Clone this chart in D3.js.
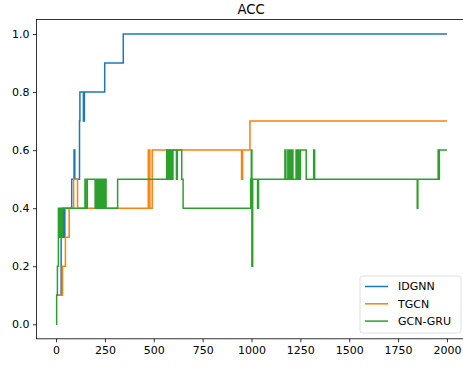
<!DOCTYPE html>
<html>
<head>
<meta charset="utf-8">
<script src="https://cdn.jsdelivr.net/npm/d3@7"></script>
<style>
  body { margin: 0; background: #fff; }
  svg text { font-family: "DejaVu Sans", sans-serif; fill: #000; }
</style>
</head>
<body>
<svg id="accChart" width="463" height="369"></svg>
<script>
// change points of each series: [epoch, accuracy], held until the next point
var idgnnSteps = [[0, 0.1], [26, 0.3], [32, 0.4], [35, 0.3], [38, 0.4], [42, 0.3], [45, 0.4],
  [80, 0.5], [92, 0.6], [96, 0.5], [120, 0.7], [122, 0.8], [140, 0.7], [145, 0.8],
  [249, 0.9], [344, 1.0], [2000, 1.0]];

var tgcnSteps = [[0, 0.1], [33, 0.2], [48, 0.3], [67, 0.4], [90, 0.5], [110, 0.4],
  [472, 0.6], [480, 0.4], [492, 0.6], [949, 0.5], [954, 0.6], [992, 0.7], [2000, 0.7]];

var gcnGruSteps = [[0, 0.0], [3, 0.1], [7, 0.2], [12, 0.4], [14, 0.3], [16, 0.4], [18, 0.3],
  [20, 0.4], [23, 0.3], [26, 0.4], [29, 0.3], [33, 0.4], [148, 0.5], [152, 0.4], [160, 0.5],
  [200, 0.4], [204, 0.5], [208, 0.4], [212, 0.5], [216, 0.4], [220, 0.5], [224, 0.4],
  [228, 0.5], [232, 0.4], [236, 0.5], [240, 0.4], [244, 0.5], [248, 0.4], [252, 0.5],
  [256, 0.4], [315, 0.5], [566, 0.6], [570, 0.5], [574, 0.6], [578, 0.5], [582, 0.6],
  [586, 0.5], [590, 0.6], [594, 0.5], [598, 0.6], [616, 0.5], [620, 0.6], [643, 0.5],
  [650, 0.4], [996, 0.5], [999, 0.6], [1002, 0.2], [1006, 0.5], [1031, 0.4], [1036, 0.5],
  [1171, 0.6], [1176, 0.5], [1186, 0.6], [1190, 0.5], [1196, 0.6], [1200, 0.5],
  [1206, 0.6], [1212, 0.5], [1228, 0.6], [1234, 0.5], [1240, 0.6], [1246, 0.5],
  [1250, 0.6], [1280, 0.5], [1318, 0.6], [1323, 0.5], [1848, 0.4], [1851, 0.5],
  [1955, 0.6], [1958, 0.5], [1961, 0.6], [2000, 0.6]];

var seriesNames = ["IDGNN", "TGCN", "GCN-GRU"];
var seriesColors = ["#1f77b4", "#ff7f0e", "#2ca02c"];
var xTicks = [0, 250, 500, 750, 1000, 1250, 1500, 1750, 2000];
var yTicks = [0.0, 0.2, 0.4, 0.6, 0.8, 1.0];
var chartTitle = "ACC";

function drawChart() {
  var svg = d3.select("#accChart");

  // axes box (right side runs past the picture edge)
  var box = {left: 36.5, right: 466.5, top: 19.5, bottom: 338.8};

  var x = d3.scaleLinear().domain([-100, 2100]).range([box.left, box.right]);
  var y = d3.scaleLinear().domain([-0.05, 1.05]).range([box.bottom, box.top]);

  // lines
  var line = d3.line()
    .x(function (d) { return x(d[0]); })
    .y(function (d) { return y(d[1]); })
    .curve(d3.curveStepAfter);

  var allSteps = [idgnnSteps, tgcnSteps, gcnGruSteps];
  svg.append("g")
    .selectAll("path")
    .data(allSteps)
    .enter()
    .append("path")
      .attr("d", function (d) { return line(d); })
      .attr("fill", "none")
      .attr("stroke", function (d, i) { return seriesColors[i]; })
      .attr("stroke-width", 1.5);

  // frame
  svg.append("rect")
    .attr("x", box.left).attr("y", box.top)
    .attr("width", box.right - box.left).attr("height", box.bottom - box.top)
    .attr("fill", "none").attr("stroke", "#000").attr("stroke-width", 0.8);

  // x axis
  var xAxis = svg.append("g")
    .attr("transform", "translate(0," + box.bottom + ")")
    .call(d3.axisBottom(x).tickValues(xTicks).tickSize(3.5).tickPadding(3.5).tickFormat(d3.format("d")));
  xAxis.select(".domain").remove();
  xAxis.selectAll("line").attr("stroke", "#000").attr("stroke-width", 0.8);
  xAxis.selectAll("text").attr("font-size", 11).attr("font-family", "DejaVu Sans");

  // y axis
  var yAxis = svg.append("g")
    .attr("transform", "translate(" + box.left + ",0)")
    .call(d3.axisLeft(y).tickValues(yTicks).tickSize(3.5).tickPadding(3.5).tickFormat(d3.format(".1f")));
  yAxis.select(".domain").remove();
  yAxis.selectAll("line").attr("stroke", "#000").attr("stroke-width", 0.8);
  yAxis.selectAll("text").attr("font-size", 11).attr("font-family", "DejaVu Sans");

  // title
  svg.append("text")
    .attr("x", 251).attr("y", 13.5)
    .attr("text-anchor", "middle")
    .attr("font-size", 13.2)
    .text(chartTitle);

  // legend, lower right
  var legend = svg.append("g").attr("transform", "translate(360,276)");
  legend.append("rect")
    .attr("width", 101).attr("height", 57)
    .attr("rx", 2.5)
    .attr("fill", "#fff").attr("fill-opacity", 0.8)
    .attr("stroke", "#d6d6d6").attr("stroke-width", 0.8);

  var items = legend.selectAll(".item")
    .data(seriesNames)
    .enter()
    .append("g")
      .attr("transform", function (d, i) { return "translate(0," + (10.5 + i * 17.3) + ")"; });
  items.append("line")
    .attr("x1", 5).attr("x2", 28)
    .attr("stroke", function (d, i) { return seriesColors[i]; })
    .attr("stroke-width", 1.5);
  items.append("text")
    .attr("x", 38).attr("dy", "0.36em")
    .attr("font-size", 11)
    .text(function (d) { return d; });
}

drawChart();
</script>
</body>
</html>
